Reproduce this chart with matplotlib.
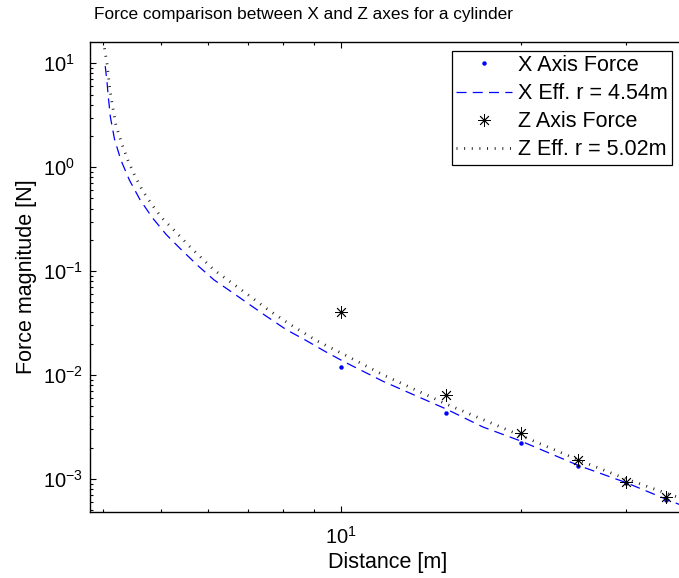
import matplotlib
matplotlib.use("Agg")
import matplotlib.pyplot as plt
from matplotlib.ticker import NullFormatter, LogLocator, LogFormatterSciNotation

plt.rcParams['font.family'] = ['Liberation Sans', 'DejaVu Sans']
plt.rcParams['mathtext.fontset'] = 'custom'
plt.rcParams['mathtext.rm'] = 'Liberation Sans'
plt.rcParams['mathtext.it'] = 'Liberation Sans:italic'
plt.rcParams['mathtext.bf'] = 'Liberation Sans:bold'

# ---- data ----
distance = [10, 15, 20, 25, 30, 35]
x_force = [0.0119, 0.00434, 0.00223, 0.00133, 0.00091, 0.00062]
z_force = [0.0406, 0.00642, 0.00275, 0.00152, 0.00094, 0.000665]

x_fit_dist = [4.03, 4.059, 4.075, 4.111, 4.176, 4.280, 4.423, 4.606, 4.834, 5.098,
              5.410, 5.761, 6.133, 6.58, 7.054, 7.552, 8.11, 8.743, 9.412, 10.14,
              11.78, 15.0, 17.29, 20.0, 25.0, 30.0, 35.0, 37.7]
x_fit_force = [9.4, 6.46, 4.95, 3.04, 1.868, 1.173, 0.753, 0.489, 0.326, 0.225,
               0.1596, 0.1127, 0.0821, 0.0622, 0.0470, 0.0358, 0.0272, 0.0215, 0.01683, 0.01334,
               0.00866, 0.00471, 0.003159, 0.002317, 0.001346, 0.000923, 0.000640, 0.000540]

z_fit_dist = [4.0, 4.060, 4.103, 4.146, 4.199, 4.308, 4.402, 4.517, 4.654, 4.818,
              5.008, 5.237, 5.585, 6.129, 6.792, 7.523, 8.160, 9.106, 10.16, 11.78,
              15.0, 20.0, 25.0, 30.04, 35.0, 37.7]
z_fit_force = [16.5, 9.69, 5.57, 3.855, 2.548, 1.610, 1.147, 0.828, 0.594, 0.442,
               0.3266, 0.2526, 0.1717, 0.1025, 0.0668, 0.0432, 0.0315, 0.02138, 0.01558, 0.0100,
               0.00526, 0.002617, 0.00152, 0.000998, 0.000731, 0.000630]

title = "Force comparison between X and Z axes for a cylinder"
xlabel = "Distance [m]"
ylabel = "Force magnitude [N]"
labels = ["X Axis Force", "X Eff. r = 4.54m", "Z Axis Force", "Z Eff. r = 5.02m"]

W, H = 679, 578
fig = plt.figure(figsize=(W / 100, H / 100), dpi=100)
ax = fig.add_axes([90 / W, (H - 512) / H, 595 / W, 470 / H])
ax.set_xscale('log')
ax.set_yscale('log')

ax.plot(distance, x_force, linestyle='none', marker='o', markersize=3.2,
        markeredgewidth=0, color='#0000ff', label=labels[0])
ax.plot(x_fit_dist, x_fit_force, color='#0000ff', lw=0.9, dashes=(8, 5),
        label=labels[1])
ax.plot(distance, z_force, linestyle='none', marker=(8, 2, 0), markersize=9,
        markeredgewidth=0.6, color='black', label=labels[2])
ax.plot(z_fit_dist, z_fit_force, color='#222222', lw=2.0, dashes=(0.35, 2.4),
        dash_capstyle='butt', label=labels[3])

ax.set_xlim(3.8, 37.7)
ax.set_ylim(4.8e-4, 16.03)

for s in ax.spines.values():
    s.set_linewidth(1.0)

ax.xaxis.set_major_locator(LogLocator(base=10))
ax.xaxis.set_minor_locator(LogLocator(base=10, subs=range(2, 10)))
ax.yaxis.set_major_locator(LogLocator(base=10))
ax.yaxis.set_minor_locator(LogLocator(base=10, subs=range(2, 10), numticks=20))
ax.xaxis.set_minor_formatter(NullFormatter())
ax.yaxis.set_minor_formatter(NullFormatter())
ax.xaxis.set_major_formatter(LogFormatterSciNotation())
ax.yaxis.set_major_formatter(LogFormatterSciNotation())

ax.tick_params(which='both', direction='in', top=True, right=True, width=0.8)
ax.tick_params(which='major', length=4.3, labelsize=14.5)
ax.tick_params(which='minor', length=2.2)
ax.tick_params(axis='x', which='major', pad=10)
ax.tick_params(axis='y', which='major', pad=34)
for lab in ax.get_yticklabels():
    lab.set_horizontalalignment('left')

ax.set_xlabel(xlabel, fontsize=15.5, labelpad=3)
ax.set_ylabel(ylabel, fontsize=15.5, labelpad=4.5)
fig.text(304 / W, 1 - 19 / H, title, ha='center', va='baseline', fontsize=12.4)

leg = ax.legend(loc='upper right', bbox_to_anchor=(671.7 / W, 1 - 50.7 / H),
                bbox_transform=fig.transFigure, borderaxespad=0, fontsize=15.5,
                handlelength=2.6, handletextpad=0.25, borderpad=0.2,
                labelspacing=0.33, fancybox=False, framealpha=1, edgecolor='black')
leg.get_frame().set_linewidth(0.9)

fig.savefig('out.png', dpi=100)
